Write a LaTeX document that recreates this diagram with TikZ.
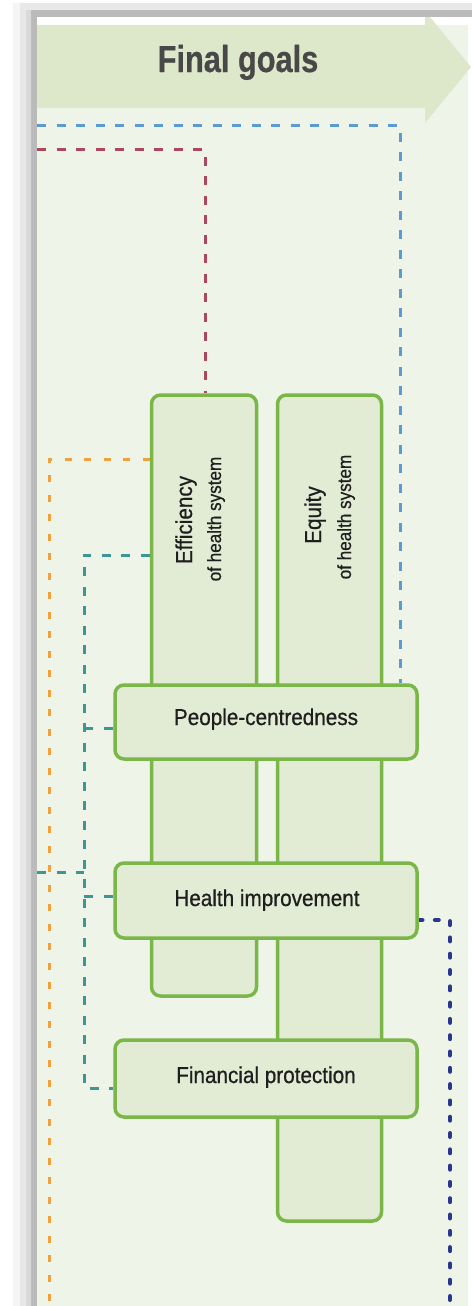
\documentclass[tikz,border=0pt]{standalone}
\usepackage{fontspec}
\setmainfont{Liberation Sans}
\newfontfamily\labfont[FakeStretch=0.9,FakeBold=0.7]{Liberation Sans}
\newfontfamily\goalfont[FakeStretch=0.82,FakeBold=0.6]{Liberation Sans}
\definecolor{headgreen}{RGB}{221,231,201}
\definecolor{lightbg}{RGB}{239,244,233}
\definecolor{boxfill}{RGB}{226,236,213}
\definecolor{boxline}{RGB}{122,182,72}
\definecolor{labtext}{RGB}{30,30,30}
\definecolor{goaltext}{RGB}{72,72,72}
\definecolor{bluedash}{RGB}{91,155,213}
\definecolor{reddash}{RGB}{176,70,90}
\definecolor{orangedash}{RGB}{240,160,60}
\definecolor{tealdash}{RGB}{60,150,150}
\definecolor{navydot}{RGB}{40,55,140}
\pgfdeclarelayer{bg}
\pgfdeclarelayer{lines}
\pgfsetlayers{bg,lines,main}
\begin{document}
\begin{tikzpicture}[x=1pt,y=-1pt,
  goalbox/.style={draw=boxline, line width=3.5pt, fill=boxfill, rounded corners=9pt, rectangle, inner sep=0pt},
  hlabel/.style={anchor=base, inner sep=0pt, text=labtext, font=\labfont\fontsize{23}{27}\selectfont},
  vlabel/.style={anchor=base, inner sep=0pt, rotate=90, text=labtext, font=\labfont\fontsize{23}{27}\selectfont},
  vsub/.style={anchor=base, inner sep=0pt, rotate=90, text=labtext, font=\labfont\fontsize{19}{22}\selectfont},
  dashline/.style={line width=3pt, dash pattern=on 9pt off 10.5pt},
  dotline/.style={line width=4.5pt, line cap=round, dash pattern=on 3.5pt off 12.8pt, navydot}
]
\useasboundingbox (0,0) rectangle (472,1306);
\begin{pgfonlayer}{bg}
  \fill[white] (0,0) rectangle (472,1306);
  % shadow frame
  \fill[black!4] (13,3) rectangle (472,1306);
  \fill[black!9] (20,6) rectangle (472,1306);
  \fill[black!15] (26,8) rectangle (472,1306);
  \fill[black!27] (31,10) rectangle (472,1306);
  \fill[white] (37,17) rectangle (472,1306);
  \fill[lightbg] (37,25) rectangle (468,1306);
  % header arrow
  \fill[headgreen] (37,25) -- (425,25) -- (425,11) -- (471,67) -- (425,123) -- (425,108) -- (37,108) -- cycle;
  \fill[black!27] (31,10) rectangle (472,17);
  \fill[black!9] (20,3) rectangle (472,10);
\end{pgfonlayer}

\node[anchor=base, inner sep=0pt, text=goaltext, font=\goalfont\bfseries\fontsize{37.5}{42}\selectfont] (title) at (238,72) {Final goals};

% vertical boxes
\node[goalbox, minimum width=105pt, minimum height=601pt] (eff) at (204,695.5) {};
\node[goalbox, minimum width=104pt, minimum height=826pt] (equ) at (329.5,808) {};
\node[vlabel] (efft) at (192,520) {Efficiency};
\node[vsub] (effs) at (221,519) {of health system};
\node[vlabel] (equt) at (321,515) {Equity};
\node[vsub] (equs) at (351,517) {of health system};

% horizontal boxes
\node[goalbox, minimum width=302pt, minimum height=74pt] (people) at (266,722) {};
\node[goalbox, minimum width=302pt, minimum height=75pt] (health) at (266,900.5) {};
\node[goalbox, minimum width=302pt, minimum height=77pt] (fin) at (266,1078.5) {};
\node[hlabel] (peoplet) at (266,725) {People-centredness};
\node[hlabel] (healtht) at (267,906) {Health improvement};
\node[hlabel] (fint) at (266,1083) {Financial protection};

% routing coordinates
\coordinate (b0) at (37,125);
\coordinate (b1) at (400,125);
\coordinate (r0) at (37,149);
\coordinate (r1) at (205,149);
\coordinate (o1) at (49,459);
\coordinate (o2) at (49,1306);
\coordinate (t1) at (84,555);
\coordinate (t2) at (84,1088);
\coordinate (tp) at (84,728);
\coordinate (th) at (84,896);
\coordinate (tin) at (37,872);
\coordinate (tj) at (84,872);
\coordinate (n1) at (450,920);
\coordinate (n2) at (450,1306);

\begin{pgfonlayer}{lines}
  \draw[dashline, bluedash] (b0) -- (b1) -- (b1 |- people.north);
  \draw[dashline, reddash] (r0) -- (r1) -- (r1 |- eff.north);
  \draw[dashline, orangedash, dash pattern=on 7pt off 12.5pt] (eff.west |- o1) -- (o1) -- (o2);
  \draw[dashline, tealdash] (eff.west |- t1) -- (t1) -- (t2) -- (fin.west |- t2);
  \draw[dashline, tealdash] (tp) -- (people.west |- tp);
  \draw[dashline, tealdash] (th) -- (health.west |- th);
  \draw[dashline, tealdash] (tin) -- (tj);
  \draw[dotline] (health.east |- n1) -- (n1) -- (n2);
\end{pgfonlayer}
\end{tikzpicture}
\end{document}
